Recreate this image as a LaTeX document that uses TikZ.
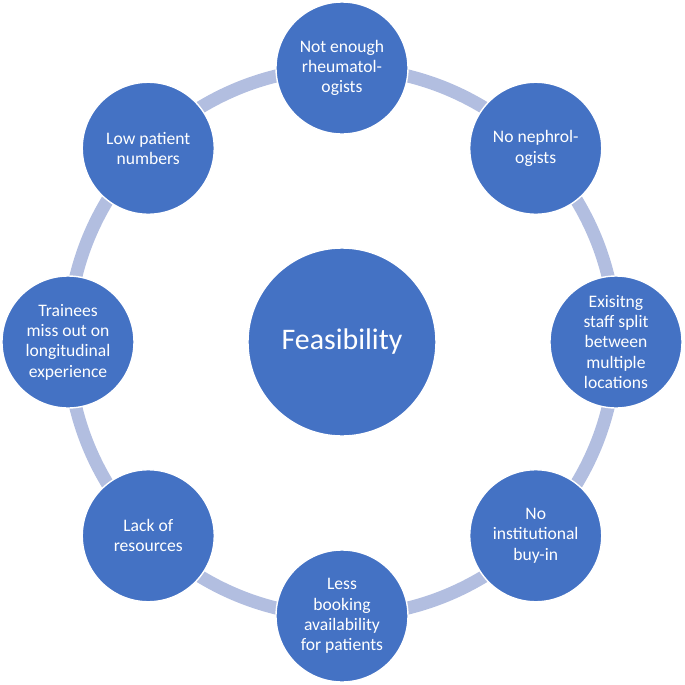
\documentclass[tikz,border=0pt]{standalone}
\usepackage{fontspec}
\setmainfont{Carlito}
\definecolor{nodeblue}{RGB}{68,114,196}
\definecolor{ringblue}{RGB}{178,190,224}
\tikzset{
    issue/.style={circle, fill=nodeblue, draw=white, line width=0.8pt,
        minimum size=2.64cm, inner sep=0pt, align=center, text=white,
        font=\fontsize{10}{11.6}\selectfont},
    hub/.style={circle, fill=nodeblue, draw=white, line width=0.8pt,
        minimum size=3.76cm, inner sep=0pt, text=white,
        font=\fontsize{17}{20}\selectfont}
}
\begin{document}
\begin{tikzpicture}
    \def\R{5.48}
    \useasboundingbox (-6.84,-6.86) rectangle (6.86,6.84);

    % Ring behind the circles
    \draw[ringblue, line width=0.26cm] (0,0) circle (\R);

    % Centre
    \node[hub] (feas) at (0,0) {Feasibility};

    % Circles round the ring, clockwise from the top
    \node[issue] (rheum) at (90:\R) {Not enough\\rheumatol-\\ogists};
    \node[issue] (nephro) at (45:\R) {No nephrol-\\ogists};
    \node[issue] (staff) at (0:\R) {Exisitng\\staff split\\between\\multiple\\locations};
    \node[issue] (buyin) at (-45:\R) {No\\institutional\\buy-in};
    \node[issue] (booking) at (-90:\R) {Less\\booking\\availability\\for patients};
    \node[issue] (resources) at (-135:\R) {Lack of\\resources};
    \node[issue] (trainees) at (180:\R) {Trainees\\miss out on\\longitudinal\\experience};
    \node[issue] (patients) at (135:\R) {Low patient\\numbers};
\end{tikzpicture}
\end{document}
